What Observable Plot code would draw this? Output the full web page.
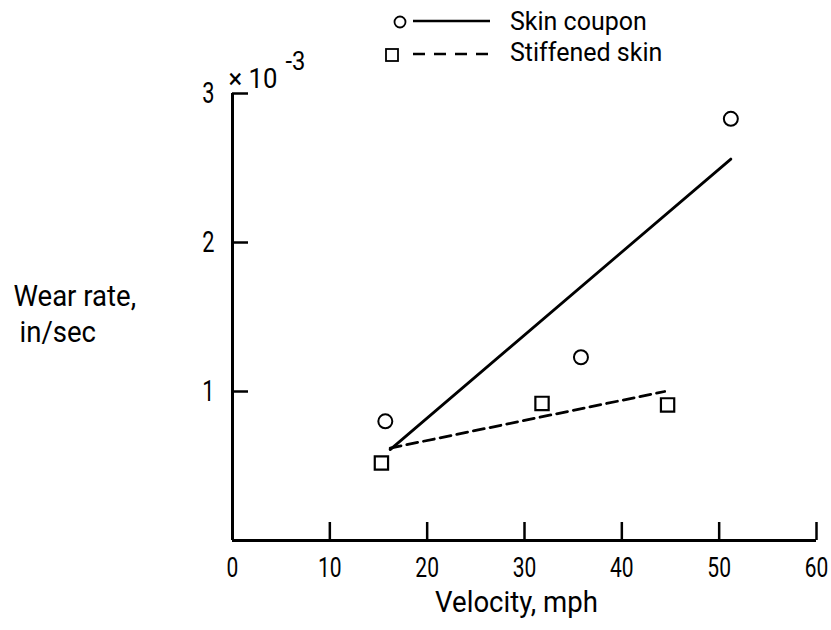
<!DOCTYPE html>
<html><head><meta charset="utf-8">
<script src="https://cdn.jsdelivr.net/npm/d3@7"></script>
<script src="https://cdn.jsdelivr.net/npm/@observablehq/plot@0.6"></script>
<style>
body{margin:0;background:#fff;}
#wrap{position:relative;width:831px;height:630px;font-family:Roboto,"Liberation Sans",sans-serif;}
#legend{position:absolute;left:380px;top:0px;}
</style></head>
<body><div id="wrap"><div id="chart"></div><svg id="legend" width="300" height="70"></svg></div>
<script>
const xTicks = [0, 10, 20, 30, 40, 50, 60];
const yTicks = [1, 2, 3];
const skinV = [15.7, 35.8, 51.2];
const skinW = [0.80, 1.23, 2.83];
const stiffV = [15.3, 31.8, 44.7];
const stiffW = [0.52, 0.92, 0.91];
const skinFitV = [16.2, 51.2];
const skinFitW = [0.61, 2.56];
const stiffFitV = [16.2, 44.4];
const stiffFitW = [0.62, 1.00];
const seriesNames = ["Skin coupon", "Stiffened skin"];

const skin = skinV.map((v, i) => ({v, w: skinW[i]}));
const stiff = stiffV.map((v, i) => ({v, w: stiffW[i]}));
const skinFit = skinFitV.map((v, i) => ({v, w: skinFitW[i]}));
const stiffFit = stiffFitV.map((v, i) => ({v, w: stiffFitW[i]}));

const font = 'Roboto,"Liberation Sans",sans-serif';

const chart = Plot.plot({
  width: 831, height: 630,
  marginLeft: 232, marginRight: 15, marginTop: 93, marginBottom: 90,
  style: {fontFamily: font, fontSize: "28px", color: "#000", background: "#fff"},
  x: {domain: [0, 60]},
  y: {domain: [0, 3]},
  marks: [
    Plot.axisX(xTicks, {tickSize: -18, tickPadding: 35, strokeWidth: 2.5, fontSize: 28, label: null, tickFormat: d => String(d)}),
    Plot.axisY(yTicks, {tickSize: -16, tickPadding: 34, strokeWidth: 2.5, fontSize: 29, label: null, tickFormat: d => String(d)}),
    Plot.ruleY([0], {strokeWidth: 3}),
    Plot.ruleX([0], {strokeWidth: 3}),
    Plot.line(skinFit, {x: "v", y: "w", strokeWidth: 2.8}),
    Plot.line(stiffFit, {x: "v", y: "w", strokeWidth: 2.8, strokeDasharray: "11,6"}),
    Plot.dot(skin, {x: "v", y: "w", r: 7, stroke: "#000", strokeWidth: 2, fill: "#fff"}),
    Plot.dot(stiff, {x: "v", y: "w", symbol: "square", r: 7.5, stroke: "#000", strokeWidth: 2.2, fill: "#fff"}),
    Plot.text(["Velocity, mph"], {frameAnchor: "bottom", dx: -8, dy: 71, fontSize: 29}),
    Plot.text(["Wear rate,"], {frameAnchor: "left", textAnchor: "start", dx: -219, dy: -20, fontSize: 29}),
    Plot.text(["in/sec"], {frameAnchor: "left", textAnchor: "start", dx: -213, dy: 16, fontSize: 29}),
    Plot.text(["\u00d7 10"], {frameAnchor: "top-left", textAnchor: "start", dx: -4, dy: -25, fontSize: 27}),
    Plot.text(["-3"], {frameAnchor: "top-left", textAnchor: "start", dx: 53, dy: -41, fontSize: 25})
  ]
});
document.getElementById("chart").appendChild(chart);

function squeeze(t, k) {
  const L = t.getComputedTextLength();
  t.setAttribute("textLength", L * k);
  t.setAttribute("lengthAdjust", "spacingAndGlyphs");
}
chart.querySelectorAll('g[aria-label$="tick label"] text').forEach(t => squeeze(t, 0.75));
chart.querySelectorAll('g[aria-label="text"] text').forEach(t => squeeze(t, 0.95));

// legend
const lg = d3.select("#legend");
lg.append("circle").attr("cx", 20).attr("cy", 22).attr("r", 5.5).attr("fill", "none").attr("stroke", "#000").attr("stroke-width", 1.8);
lg.append("line").attr("x1", 33).attr("x2", 110).attr("y1", 21).attr("y2", 21).attr("stroke", "#000").attr("stroke-width", 2.5);
lg.append("rect").attr("x", 6).attr("y", 49).attr("width", 12).attr("height", 12).attr("fill", "none").attr("stroke", "#000").attr("stroke-width", 1.8);
lg.append("line").attr("x1", 33).attr("x2", 110).attr("y1", 54).attr("y2", 54).attr("stroke", "#000").attr("stroke-width", 2.5).attr("stroke-dasharray", "12,9");
lg.selectAll("text").data(seriesNames).join("text")
  .attr("x", 130).attr("y", (d, i) => i === 0 ? 30 : 61)
  .attr("font-family", font).attr("font-size", 25).attr("fill", "#000")
  .text(d => d);
</script></body></html>
